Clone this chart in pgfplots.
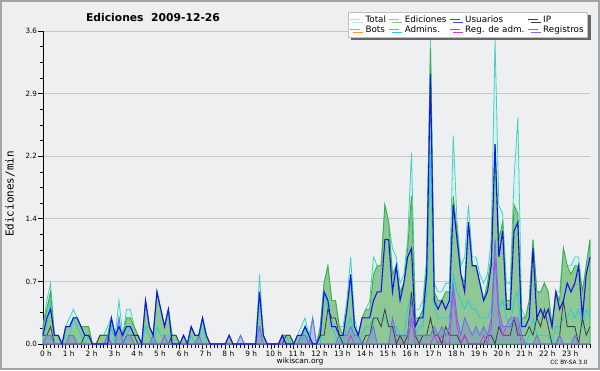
\documentclass[border=0pt]{standalone}
\usepackage{fontspec}
\setmainfont{DejaVu Sans}
\setsansfont{DejaVu Sans}
\newfontfamily\monofont{DejaVu Sans Mono}
\usepackage{pgfplots}
\pgfplotsset{compat=1.18}
\usepackage{pgfplotstable}
\usetikzlibrary{shadows}
\definecolor{bgc}{RGB}{238,239,241}
\definecolor{bordc}{RGB}{165,165,165}
\definecolor{gridc}{RGB}{200,200,200}
\definecolor{totc}{RGB}{66,208,198}
\definecolor{totl}{RGB}{170,232,226}
\definecolor{totfill}{RGB}{214,242,238}
\definecolor{edc}{RGB}{60,176,66}
\definecolor{edl}{RGB}{130,210,130}
\definecolor{edfill}{RGB}{142,200,148}
\definecolor{usc}{RGB}{20,20,230}
\definecolor{ipc}{RGB}{60,60,60}
\definecolor{botc}{RGB}{250,150,50}
\definecolor{admc}{RGB}{40,200,222}
\definecolor{radc}{RGB}{200,60,230}
\definecolor{regc}{RGB}{110,110,240}
\pgfplotstableread{
s T E U I A R M
0 .2 .2 .1 .1 .1 0 0
1 .5 .4 .3 .1 .2 .1 0
2 .7 .6 .4 .2 .5 .1 0
3 .1 .1 .1 0 0 0 0
4 .1 .1 .1 0 0 0 0
5 0 0 0 0 0 0 0
6 .2 .2 .2 0 .1 0 0
7 .3 .2 .2 0 .1 .1 0
8 .4 .3 .3 0 .3 .1 0
9 .3 .3 .3 0 .2 0 0
10 .2 .2 .2 0 .1 0 0
11 .2 .2 .1 .1 0 0 0
12 .2 .2 .1 .1 .1 0 0
13 0 0 0 0 0 0 0
14 0 0 0 0 0 0 0
15 .1 .1 0 .1 0 0 0
16 .1 .1 0 .1 0 0 0
17 .2 .1 0 .1 0 .1 0
18 .3 .3 .3 0 .2 0 0
19 .1 .1 .1 0 0 0 0
20 .5 .2 .2 0 .3 .3 0
21 .1 .1 .1 0 0 0 0
22 .4 .3 .2 .1 .1 .1 0
23 .4 .3 .2 .1 .2 .1 0
24 .2 .2 .1 .1 .1 0 0
25 .1 .1 .1 0 0 0 0
26 0 0 0 0 0 0 0
27 .5 .5 .5 0 .2 0 0
28 .2 .2 .2 0 .1 0 0
29 .1 .1 .1 0 0 .1 0
30 .6 .6 .6 0 .2 0 0
31 .4 .4 .4 0 .1 0 0
32 .2 .2 .2 0 .1 .1 0
33 .4 .4 .4 0 .1 0 0
34 .1 .1 0 .1 0 0 0
35 .1 .1 0 .1 0 0 0
36 0 0 0 0 0 0 0
37 .1 .1 .1 0 0 0 0
38 0 0 0 0 0 0 0
39 .2 .2 .2 0 .1 0 0
40 .1 .1 .1 0 0 0 0
41 .1 .1 .1 0 0 .1 0
42 .3 .3 .3 0 .3 0 0
43 .1 .1 .1 0 0 0 0
44 0 0 0 0 0 0 0
45 0 0 0 0 0 0 0
46 0 0 0 0 0 0 0
47 0 0 0 0 0 0 0
48 0 0 0 0 0 0 0
49 .1 .1 .1 0 0 0 0
50 0 0 0 0 0 0 0
51 0 0 0 0 0 0 0
52 .1 0 0 0 0 .1 0
53 0 0 0 0 0 0 0
54 0 0 0 0 0 0 0
55 0 0 0 0 0 0 0
56 0 0 0 0 0 0 0
57 .8 .6 .6 0 .6 .2 0
58 .1 .1 .1 0 .1 0 0
59 0 0 0 0 0 0 0
60 0 0 0 0 0 0 0
61 0 0 0 0 0 0 0
62 0 0 0 0 0 0 0
63 .1 .1 .1 0 0 .1 0
64 .1 .1 0 .1 .1 0 0
65 .1 .1 0 .1 0 0 0
66 0 0 0 0 0 0 0
67 .1 .1 .1 0 0 0 0
68 .2 .1 .1 0 0 .1 0
69 .3 .2 .2 0 .2 .1 0
70 .1 .1 .1 0 0 0 0
71 .3 0 0 0 0 .3 0
72 0 0 0 0 0 0 0
73 .2 .2 .1 .1 0 0 0
74 .7 .7 .6 .1 .6 0 0
75 .9 .9 .5 .4 .4 0 0
76 .5 .5 .2 .3 .2 0 0
77 .5 .5 .2 .3 .1 0 0
78 .2 .2 .1 .1 0 .1 0
79 .2 .1 .1 0 0 .1 0
80 .5 .4 .4 0 .2 .1 0
81 1.0 .8 .8 0 .3 .2 .1
82 .3 .2 .2 0 .1 .1 0
83 .1 .1 .1 0 0 .1 0
84 .3 .3 .3 0 .1 0 0
85 .4 .4 .3 .1 .2 0 0
86 .5 .4 .3 .1 .2 .1 0
87 1.0 .8 .5 .3 .3 .2 0
88 .9 .9 .6 .3 .3 0 0
89 .9 .9 .6 .2 .3 0 0
90 1.6 1.6 1.2 .4 .3 0 0
91 1.4 1.4 1.2 .2 .2 0 0
92 1.1 .8 .6 .2 .2 .3 0
93 1.0 .9 .9 0 .2 .1 0
94 .7 .6 .5 .1 .1 .1 0
95 .8 .7 .7 0 .1 .1 0
96 1.2 1.1 1.0 .1 .4 .1 0
97 2.2 1.7 1.1 .6 .6 .5 .3
98 .4 .3 .2 .1 .1 .1 0
99 .4 .3 .3 0 .2 .1 0
100 .5 .4 .3 .1 .2 .1 0
101 1.0 .9 .8 .1 .6 .1 0
102 3.5 3.4 3.1 .3 2.2 .1 0
103 .7 .6 .5 .1 .4 .2 .1
104 .6 .5 .4 .1 .3 .1 0
105 .6 .5 .5 0 .3 .2 .1
106 .7 .6 .4 .2 .3 .1 0
107 .7 .6 .5 .1 .3 .2 0
108 2.4 1.7 1.6 .1 .8 .7 .6
109 1.4 1.3 1.2 .1 .6 .3 .2
110 .9 .8 .8 0 .5 .1 0
111 1.0 .7 .6 .1 .4 .3 .1
112 1.6 1.4 1.4 0 .5 .2 0
113 1.0 .9 .9 0 .4 .1 0
114 1.0 .9 .9 0 .4 .2 0
115 .8 .7 .7 0 .3 .1 0
116 .7 .5 .5 0 .3 .2 .1
117 .8 .7 .6 .1 .3 .1 0
118 1.2 1.0 .9 .1 .4 .3 .2
119 3.5 2.3 2.3 0 .9 1.2 1.0
120 1.6 1.2 1.0 .2 .4 .4 .3
121 1.5 1.4 1.3 .1 .5 .2 .1
122 .7 .5 .4 .1 .3 .2 .2
123 .7 .5 .4 .1 .2 .2 .3
124 1.9 1.6 1.3 .3 .5 .3 .3
125 2.6 1.5 1.4 .1 .6 .3 .2
126 .4 .3 .2 .1 .1 .1 0
127 .3 .3 .2 .1 0 0 0
128 .5 .5 .3 .2 .1 0 0
129 1.2 1.2 1.1 .1 .3 0 0
130 .6 .6 .3 .3 .1 .1 0
131 .6 .6 .4 .2 .1 0 0
132 .7 .7 .3 .4 .1 0 0
133 .6 .6 .4 .2 .1 0 0
134 .2 .2 .2 0 0 0 0
135 .6 .6 .6 0 .2 0 0
136 .6 .5 .4 .1 .2 .1 0
137 1.1 1.1 .5 .5 .3 0 0
138 .9 .9 .7 .2 .3 0 0
139 .9 .8 .6 .2 .4 0 0
140 1.0 .9 .7 .2 .3 .1 0
141 1.0 .9 .9 0 .4 0 0
142 .6 .6 .3 .3 .2 0 0
143 .9 .9 .8 .1 .4 0 0
144 1.2 1.2 1.0 .2 .3 0 0
}\data
\begin{document}
\begin{tikzpicture}[x=1bp,y=1bp]
\fill[bgc] (0,0) rectangle (600,370);
\draw[bordc, line width=2bp] (1,1) rectangle (599,369);
\node[font=\bfseries\fontsize{10.8}{12}\selectfont] at (153,353) {Ediciones\ \ 2009-12-26};
\node[rotate=90, font=\monofont\fontsize{11}{12}\selectfont] at (10,176) {Ediciones/min};
\node[font=\fontsize{7.5}{9}\selectfont] at (300,9) {wikiscan.org};
\node[font=\fontsize{5.8}{7}\selectfont] at (569,8) {CC BY-SA 3.0};
\begin{axis}[
  at={(43bp,26bp)}, anchor=south west, scale only axis,
  width=547bp, height=313bp,
  xmin=0, xmax=144, ymin=0, ymax=3.6,
  axis x line*=bottom, axis y line*=left,
  axis line style={black, line width=1bp},
  xtick={0,6,...,138},
  xticklabels={0 h,1 h,2 h,3 h,4 h,5 h,6 h,7 h,8 h,9 h,10 h,11 h,12 h,13 h,14 h,15 h,16 h,17 h,18 h,19 h,20 h,21 h,22 h,23 h},
  minor xtick={0,1,...,144},
  ytick={0,0.72,1.44,2.16,2.88,3.6},
  yticklabels={0.0,0.7,1.4,2.2,2.9,3.6},
  minor y tick num=3,
  ymajorgrids, y grid style={gridc, line width=0.8bp},
  tick align=outside, major tick length=5bp, minor tick length=3.5bp,
  tick style={black, line width=0.7bp},
  x tick label style={font=\fontsize{7.4}{8}\selectfont, xshift=3bp, yshift=1.5bp},
  y tick label style={font=\fontsize{7.2}{8}\selectfont, xshift=2.5bp},
  /pgf/number format/assume math mode=true,
  clip=false,
  legend columns=4,
  legend cell align=left,
  legend style={at={(0.996,1.061)}, anchor=north east, draw=gray!50, fill=white,
    font=\fontsize{8.8}{9.2}\selectfont, inner xsep=2bp, inner ysep=1.5bp,
    row sep=-2.2bp,
    /tikz/every odd column/.append style={column sep=3bp},
    /tikz/every even column/.append style={column sep=1bp},
    drop shadow={shadow xshift=3bp, shadow yshift=-3bp, fill=black!60, opacity=1}},
  legend image code/.code={\draw[#1] (0bp,0bp) -- (10bp,0bp);},
]
\addplot[draw=totc, line width=0.8bp, fill=totfill, forget plot] table[x=s,y=T]{\data} \closedcycle;
\addplot[draw=edc, line width=0.9bp, fill=edfill, forget plot] table[x=s,y=E]{\data} \closedcycle;
\addplot[draw=none, fill=regc, fill opacity=0.3, forget plot] table[x=s,y=R]{\data} \closedcycle;
\addplot[draw=admc, line width=0.8bp, forget plot] table[x=s,y=A]{\data};
\addplot[draw=ipc, line width=0.8bp, forget plot] table[x=s,y=I]{\data};
\addplot[draw=radc, line width=0.8bp, forget plot] table[x=s,y=M]{\data};
\addplot[draw=regc, line width=0.9bp, forget plot] table[x=s,y=R]{\data};
\addplot[draw=usc, line width=1.1bp, forget plot] table[x=s,y=U]{\data};
\addlegendimage{totl, line width=0.8bp}\addlegendentry{Total}
\addlegendimage{edl, line width=0.8bp}\addlegendentry{Ediciones}
\addlegendimage{usc!80, line width=0.8bp}\addlegendentry{Usuarios}
\addlegendimage{ipc, line width=0.8bp}\addlegendentry{IP}
\addlegendimage{botc, line width=0.8bp}\addlegendentry{Bots}
\addlegendimage{admc, line width=0.8bp}\addlegendentry{Admins.}
\addlegendimage{radc, line width=0.8bp}\addlegendentry{Reg. de adm.}
\addlegendimage{regc, line width=0.8bp}\addlegendentry{Registros}
\end{axis}
\end{tikzpicture}
\end{document}
